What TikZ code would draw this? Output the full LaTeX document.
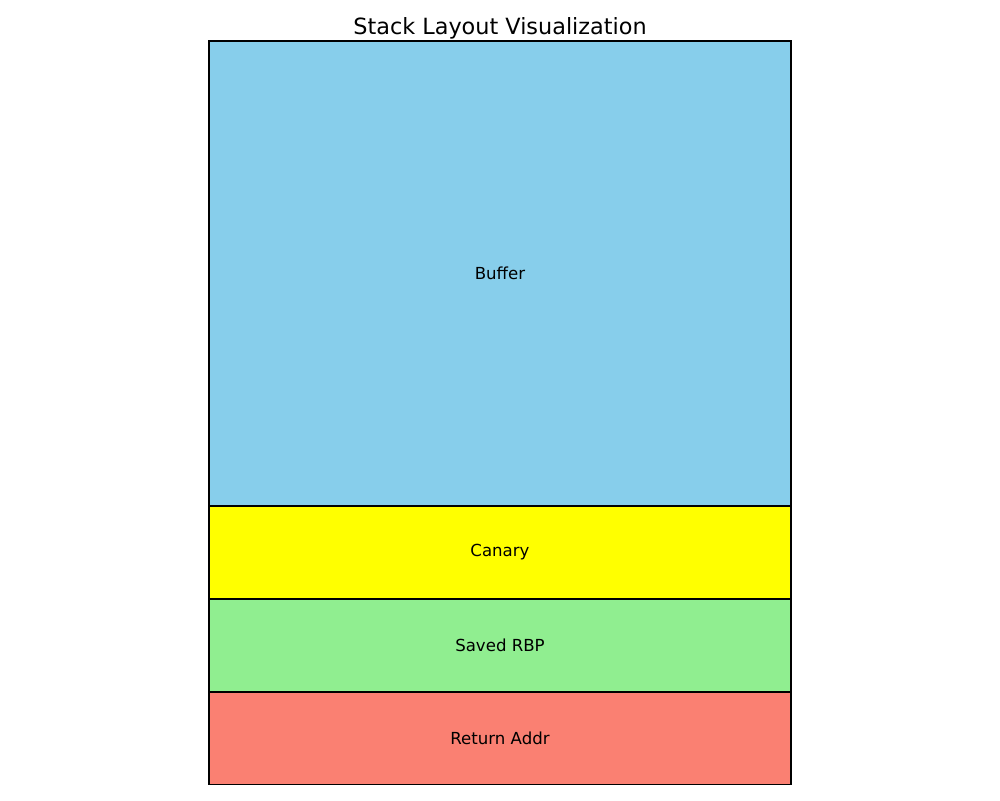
\documentclass[tikz,border=0pt]{standalone}
\usepackage{fontspec}
\setmainfont{DejaVu Sans}
\usetikzlibrary{positioning}

\definecolor{skyblue}{HTML}{87CEEB}
\definecolor{canaryyellow}{HTML}{FFFF00}
\definecolor{lightgreen}{HTML}{90EE90}
\definecolor{salmon}{HTML}{FA8072}

\begin{document}
\begin{tikzpicture}[
  node distance=0pt,
  frame/.style={rectangle, draw=black, line width=0.8pt, inner sep=0pt,
    outer sep=0pt, minimum width=14.55cm, font=\fontsize{11.8}{14}\selectfont},
  slot/.style={frame, minimum height=2.325cm}]
  \useasboundingbox (0,0) rectangle (25,20);
  \node[font=\fontsize{15.9}{19}\selectfont] (title) at (12.5,19.28) {Stack Layout Visualization};
  \begin{scope}
    \clip (0,0.395) rectangle (25,20);
    \node[frame, fill=skyblue, minimum height=11.625cm, below=of {(12.5,18.975)}] (buffer) {Buffer};
    \node[slot, fill=canaryyellow, below=of buffer] (canary) {Canary};
    \node[slot, fill=lightgreen, below=of canary] (rbp) {Saved RBP};
    \node[slot, fill=salmon, below=of rbp] (ret) {Return Addr};
  \end{scope}
\end{tikzpicture}
\end{document}
